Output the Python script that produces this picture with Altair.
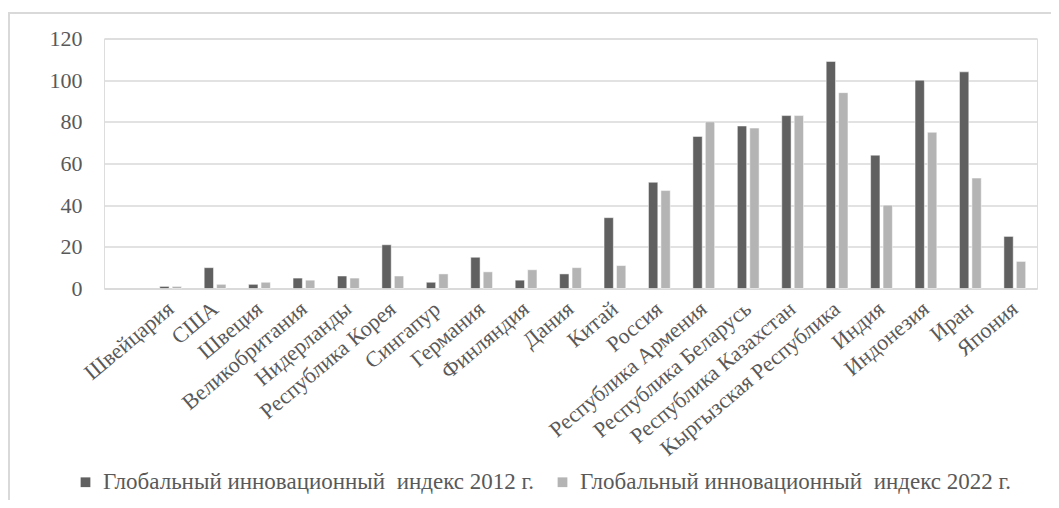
import altair as alt
import pandas as pd

countries = ["", "Швейцария", "США", "Швеция", "Великобритания", "Нидерланды",
             "Республика Корея", "Сингапур", "Германия", "Финляндия", "Дания",
             "Китай", "Россия", "Республика Армения", "Республика Беларусь",
             "Республика Казахстан", "Кыргызская Республика", "Индия",
             "Индонезия", "Иран", "Япония"]
gii_2012 = [None, 1, 10, 2, 5, 6, 21, 3, 15, 4, 7, 34, 51, 73, 78, 83, 109, 64, 100, 104, 25]
gii_2022 = [None, 1, 2, 3, 4, 5, 6, 7, 8, 9, 10, 11, 47, 80, 77, 83, 94, 40, 75, 53, 13]
series = ["Глобальный инновационный\u00a0 индекс 2012 г.",
          "Глобальный инновационный\u00a0 индекс 2022 г."]
y_ticks = [0, 20, 40, 60, 80, 100, 120]

rows = []
for c, a, b in zip(countries, gii_2012, gii_2022):
    if a is not None:
        rows.append({"country": c, "series": series[0], "value": a})
    if b is not None:
        rows.append({"country": c, "series": series[1], "value": b})
df = pd.DataFrame(rows)

FONT = "Liberation Serif, Times New Roman, serif"
GRAY = "#595959"

bars = alt.Chart(df).mark_bar(stroke="white", strokeWidth=0.5).encode(
    x=alt.X("country:N", sort=countries,
            scale=alt.Scale(domain=countries, paddingInner=0.51, paddingOuter=0.255),
            axis=alt.Axis(title=None, labelAngle=-40, labelFont=FONT, labelFontSize=22,
                          labelColor=GRAY, ticks=False, domainColor="#d9d9d9",
                          domainWidth=1.5, grid=False, labelPadding=17, labelOffset=0,
                          labelLimit=400, labelAlign="right", labelBaseline="middle")),
    xOffset=alt.XOffset("series:N", sort=series, scale=alt.Scale(paddingInner=0.25)),
    y=alt.Y("value:Q", scale=alt.Scale(domain=[0, 120]),
            axis=alt.Axis(title=None, values=y_ticks, grid=True, gridColor="#d9d9d9",
                          gridWidth=1.5, domain=False, ticks=False, labelPadding=22,
                          labelFont=FONT, labelFontSize=22, labelColor=GRAY)),
    color=alt.Color("series:N", sort=series,
                    scale=alt.Scale(domain=series, range=["#606060", "#b4b4b4"]),
                    legend=alt.Legend(orient="none", legendX=-30, legendY=432,
                                      direction="horizontal", title=None,
                                      symbolType="square", symbolSize=95,
                                      symbolStrokeWidth=0, labelFont=FONT,
                                      labelFontSize=23, labelColor=GRAY,
                                      labelLimit=1000, columnPadding=16,
                                      labelOffset=6)),
)

frame_df = pd.DataFrame({"k": [0]})
left_line = alt.Chart(frame_df).mark_rule(color="#d9d9d9", strokeWidth=2).encode(
    x=alt.value(-95), y=alt.value(-25.5), y2=alt.value(470))
top_line = alt.Chart(frame_df).mark_rule(color="#d9d9d9", strokeWidth=2).encode(
    x=alt.value(-96), x2=alt.value(950), y=alt.value(-25.5))

chart = alt.layer(left_line, top_line, bars).properties(
    width=933, height=250,
    autosize=alt.AutoSizeParams(type="none"),
    padding={"left": 96, "top": 30.5, "right": 14, "bottom": 211},
).configure_view(stroke=None).configure(background="white")

chart.save("out.html", embed_options={"renderer": "svg", "actions": False})
